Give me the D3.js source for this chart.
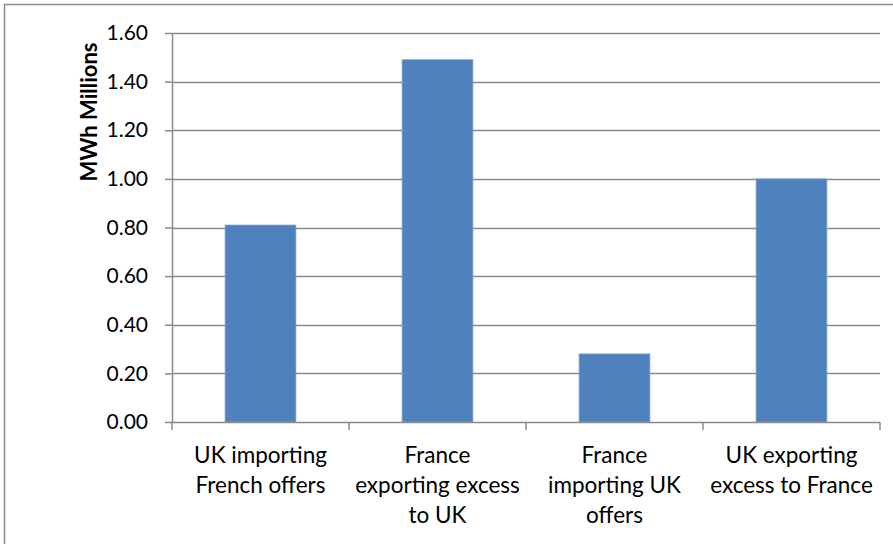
<!DOCTYPE html>
<html>
<head>
<meta charset="utf-8">
<script src="https://cdn.jsdelivr.net/npm/d3@7"></script>
<style>
  body { margin: 0; background: #fff; }
  svg { display: block; font-family: Lato, "Open Sans", sans-serif; }
</style>
</head>
<body>
<div id="chart"></div>
<script>
/* Data */

var categories = [
  ["UK importing", "French offers"],
  ["France", "exporting excess", "to UK"],
  ["France", "importing UK", "offers"],
  ["UK exporting", "excess to France"]
];
var values = [0.81, 1.49, 0.28, 1.00];
var yTicks = [0, 0.2, 0.4, 0.6, 0.8, 1.0, 1.2, 1.4, 1.6];
var yTitle = "MWh Millions";

var width = 893,
    height = 544;
var margin = {top: 33, right: 13, bottom: 122, left: 172};

var svg = d3.select("#chart").append("svg")
    .attr("width", width)
    .attr("height", height);

// chart frame (runs off the right and bottom of the picture)
svg.append("rect")
    .attr("x", 4.5).attr("y", 4.5)
    .attr("width", width + 20).attr("height", height + 20)
    .attr("fill", "none")
    .attr("stroke", "#8c8c8c")
    .attr("stroke-width", 1.5);

var g = svg.append("g").attr("transform", "translate(" + margin.left + "," + margin.top + ")");
var w = width - margin.left - margin.right,
    h = height - margin.top - margin.bottom;

var x = d3.scaleBand().domain(d3.range(categories.length)).range([0, w]).paddingInner(0.6).paddingOuter(0.3);
var y = d3.scaleLinear().domain([0, 1.6]).range([h, 0]);

/* gridlines */
g.append("g").selectAll("line")
    .data(yTicks.slice(1))
    .enter().append("line")
    .attr("x1", 0).attr("x2", w)
    .attr("y1", function(d) { return Math.round(y(d)) + 0.5; })
    .attr("y2", function(d) { return Math.round(y(d)) + 0.5; })
    .attr("stroke", "#8a8a8a")
    .attr("stroke-width", 1.5);

/* bars */
g.append("g").selectAll("rect")
    .data(values)
    .enter().append("rect")
    .attr("x", function(d, i) { return x(i); })
    .attr("y", function(d) { return y(d); })
    .attr("width", x.bandwidth())
    .attr("height", function(d) { return h - y(d); })
    .attr("fill", "#4f81bd")
    .attr("stroke", "#7fa3d0")
    .attr("stroke-width", 0.8);

/* y axis */
var yAxis = g.append("g")
    .call(d3.axisLeft(y).tickValues(yTicks).tickSize(7).tickPadding(17).tickFormat(d3.format(".2f")));
yAxis.select(".domain").attr("stroke", "#8a8a8a").attr("stroke-width", 1.5).attr("d", "M0.5,0V" + h);
yAxis.selectAll(".tick line").attr("stroke", "#8a8a8a").attr("stroke-width", 1.5);
yAxis.selectAll(".tick text").attr("font-size", 21).attr("fill", "#000").attr("font-family", "Lato, sans-serif");

/* x axis */
var step = x.step();
var xTickPos = d3.range(categories.length + 1).map(function(i) { return i * step; });
var xa = g.append("g").attr("transform", "translate(0," + h + ")");
xa.append("line")
    .attr("x1", 0).attr("x2", w)
    .attr("y1", 0.5).attr("y2", 0.5)
    .attr("stroke", "#8a8a8a").attr("stroke-width", 1.5);
xa.selectAll("line.tk")
    .data(xTickPos)
    .enter().append("line")
    .attr("class", "tk")
    .attr("x1", function(d) { return d; }).attr("x2", function(d) { return d; })
    .attr("y1", 0).attr("y2", 8)
    .attr("stroke", "#8a8a8a").attr("stroke-width", 1.5);

var labels = xa.selectAll("text.cat")
    .data(categories)
    .enter().append("text")
    .attr("class", "cat")
    .attr("text-anchor", "middle")
    .attr("font-size", 22.5)
    .attr("fill", "#000");
labels.each(function(lines, i) {
  var t = d3.select(this);
  lines.forEach(function(line, j) {
    t.append("tspan")
      .attr("x", x(i) + x.bandwidth() / 2)
      .attr("y", 41 + j * 30)
      .text(line);
  });
});

/* y title */
svg.append("text")
    .attr("transform", "translate(97," + 112 + ") rotate(-90)")
    .attr("text-anchor", "middle")
    .attr("font-size", 22)
    .attr("font-weight", "bold")
    .attr("fill", "#000")
    .text(yTitle);
</script>
</body>
</html>
